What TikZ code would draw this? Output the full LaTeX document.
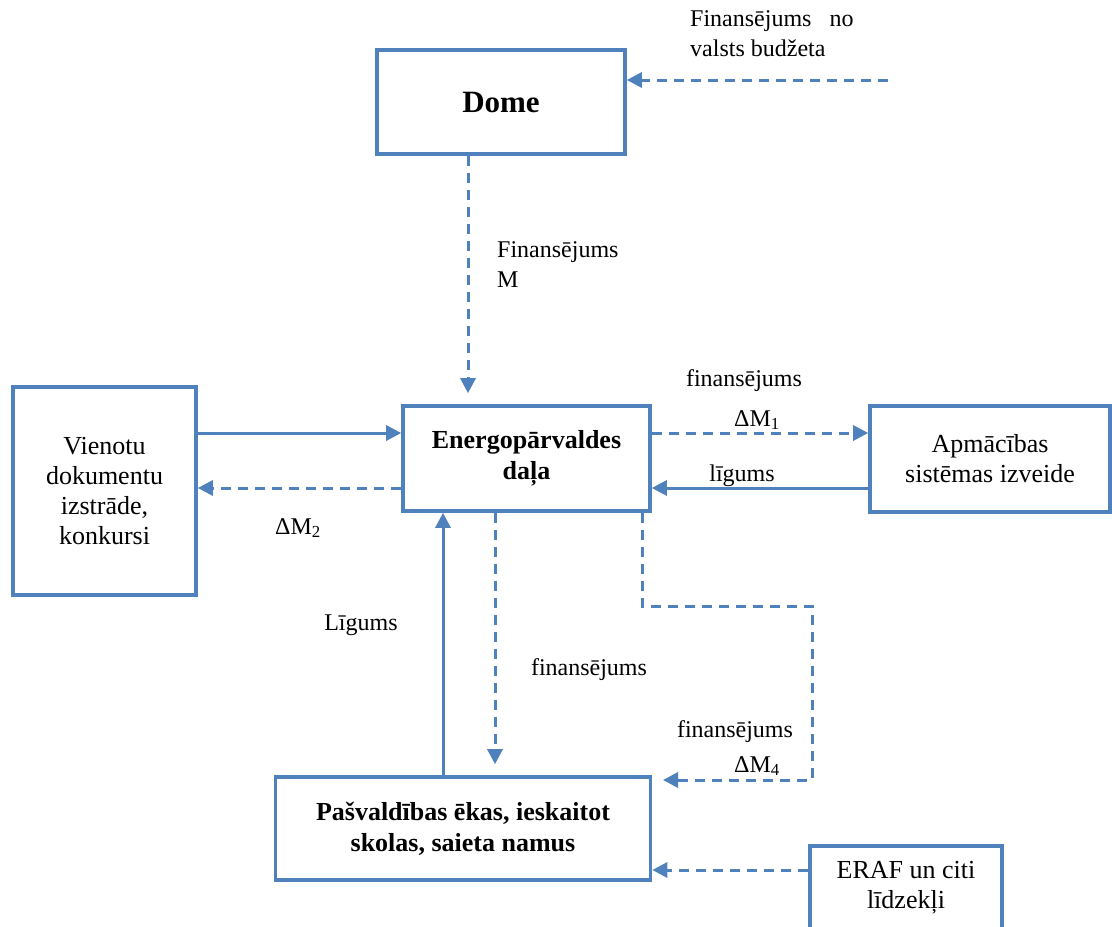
\documentclass[tikz,border=0pt]{standalone}
\usepackage{fontspec}
\setmainfont{Liberation Serif}
\usetikzlibrary{arrows.meta}
\definecolor{lineblue}{RGB}{79,129,189}
\begin{document}
\begin{tikzpicture}[x=1pt,y=-1pt,
  box/.style={draw=lineblue,line width=3.6pt,inner sep=0pt,align=center,font=\fontsize{26}{30}\selectfont},
  bbox/.style={box,font=\fontsize{26}{31}\selectfont\bfseries},
  lbl/.style={inner sep=0pt,align=left,font=\fontsize{24}{30}\selectfont},
  conn/.style={draw=lineblue,line width=3pt,-{Triangle[length=15pt,width=15pt]}},
  dconn/.style={conn,dash pattern=on 10pt off 7pt}]
\useasboundingbox (0,0) rectangle (1112,927);
\clip (0,0) rectangle (1112,927);

% boxes
\node[bbox,minimum width=248pt,minimum height=104pt,font=\fontsize{31}{36}\selectfont\bfseries] (dome) at (501,102) {Dome};
\node[bbox,minimum width=247pt,minimum height=105pt] (energo) at (526.5,458.5) {Energopārvaldes\\daļa};
\node[box,minimum width=183pt,minimum height=208pt] (vien) at (104.5,491) {Vienotu\\dokumentu\\izstrāde,\\konkursi};
\node[box,minimum width=240pt,minimum height=106pt] (apm) at (990,459) {Apmācības\\sistēmas izveide};
\node[bbox,minimum width=375pt,minimum height=103pt] (pasv) at (463,828.5) {Pašvaldības ēkas, ieskaitot\\skolas, saieta namus};
\node[box,minimum width=192pt,minimum height=84pt] (eraf) at (906,888) {ERAF un citi\\līdzekļi};

% helper coordinates
\coordinate (src) at (888,80);
\coordinate (xd) at (468,0);
\coordinate (ya) at (0,433);
\coordinate (yb) at (0,488);
\coordinate (xl) at (443,0);
\coordinate (xf) at (495,0);
\coordinate (xr) at (642,0);
\coordinate (c1) at (642,606);
\coordinate (c2) at (812,606);
\coordinate (c3) at (812,780);
\coordinate (tip4) at (663,780);
\coordinate (ye) at (0,870);

% connectors
\draw[dconn] (src) -- (src -| dome.east);
\draw[dconn,shorten >=11pt] (dome.south -| xd) -- (energo.north -| xd);
\draw[conn] (vien.east |- ya) -- (energo.west |- ya);
\draw[dconn] (energo.west |- yb) -- (vien.east |- yb);
\draw[dconn] (energo.east |- ya) -- (apm.west |- ya);
\draw[conn] (apm.west |- yb) -- (energo.east |- yb);
\draw[conn] (pasv.north -| xl) -- (energo.south -| xl);
\draw[dconn,shorten >=11pt] (energo.south -| xf) -- (pasv.north -| xf);
\draw[dconn] (energo.south -| xr) -- (c1) -- (c2) -- (c3) -- (tip4);
\draw[dconn] (eraf.west |- ye) -- (pasv.east |- ye);

% labels
\node[lbl,anchor=north west] (l0) at (690,10) {Finansējums\ \ \ no\\valsts budžeta};
\node[lbl,anchor=north west] (l1) at (497,241) {Finansējums\\M};
\node[lbl] (l2) at (744,381) {finansējums};
\node[lbl] (l3) at (757,420) {ΔM\textsubscript{1}};
\node[lbl] (l4) at (742,476) {līgums};
\node[lbl] (l5) at (298,528) {ΔM\textsubscript{2}};
\node[lbl] (l6) at (361,625) {Līgums};
\node[lbl] (l7) at (589,670) {finansējums};
\node[lbl] (l8) at (735,732) {finansējums};
\node[lbl] (l9) at (757,766) {ΔM\textsubscript{4}};
\end{tikzpicture}
\end{document}
